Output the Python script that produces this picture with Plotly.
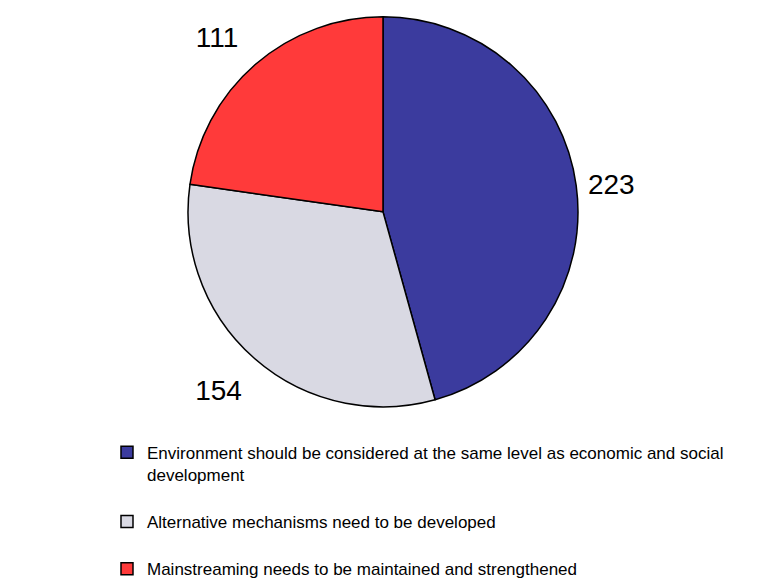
import plotly.graph_objects as go

labels = [
    "Environment should be considered at the same level as economic and social<br>development<br> ",
    "Alternative mechanisms need to be developed<br> ",
    "Mainstreaming needs to be maintained and strengthened",
]
values = [223, 154, 111]
colors = ["#3b3b9e", "#d9d9e3", "#ff3a3a"]

W, H = 761, 587
FONT = "Liberation Sans, Arial, sans-serif"
CX, CY, R = 383, 211, 197                  # pie centre / radius in pixels
LABEL_R = [201, 201, 171]                  # radius of each invisible label-carrying pie
LABEL_OFFSET = [(0, 0), (-2, 21), (-26, -38)]  # centre offset (px) of each label-carrying pie


def domain_for(cx, cy, radius):
    return dict(
        x=[(cx - radius) / W, (cx + radius) / W],
        y=[1 - (cy + radius) / H, 1 - (cy - radius) / H],
    )


# visible pie (no text)
fig = go.Figure(
    go.Pie(
        labels=labels,
        values=values,
        sort=False,
        direction="clockwise",
        rotation=0,
        marker=dict(colors=colors, line=dict(color="#000000", width=1.5)),
        textinfo="none",
        domain=domain_for(CX, CY, R),
        hoverinfo="label+value",
    )
)

# transparent pies that only carry the outside value labels, one label each
for i in range(len(values)):
    ox, oy = LABEL_OFFSET[i]
    tmpl = ["%{value}" if j == i else "" for j in range(len(values))]
    fig.add_trace(
        go.Pie(
            labels=labels,
            values=values,
            sort=False,
            direction="clockwise",
            rotation=0,
            marker=dict(colors=["rgba(0,0,0,0)"] * len(values), line=dict(width=0)),
            texttemplate=tmpl,
            textposition="outside",
            textfont=dict(family=FONT, size=28, color="#000000"),
            domain=domain_for(CX + ox, CY + oy, LABEL_R[i]),
            showlegend=False,
            hoverinfo="skip",
        )
    )

fig.update_layout(
    width=W,
    height=H,
    margin=dict(l=0, r=0, t=0, b=0),
    paper_bgcolor="#ffffff",
    plot_bgcolor="#ffffff",
    showlegend=True,
    legend=dict(
        x=0.1406,
        xanchor="left",
        y=0.257,
        yanchor="top",
        valign="top",
        font=dict(family=FONT, size=17, color="#000000"),
        bgcolor="rgba(0,0,0,0)",
        itemclick=False,
    ),
    font=dict(family=FONT),
)

fig.write_html("out.html")
